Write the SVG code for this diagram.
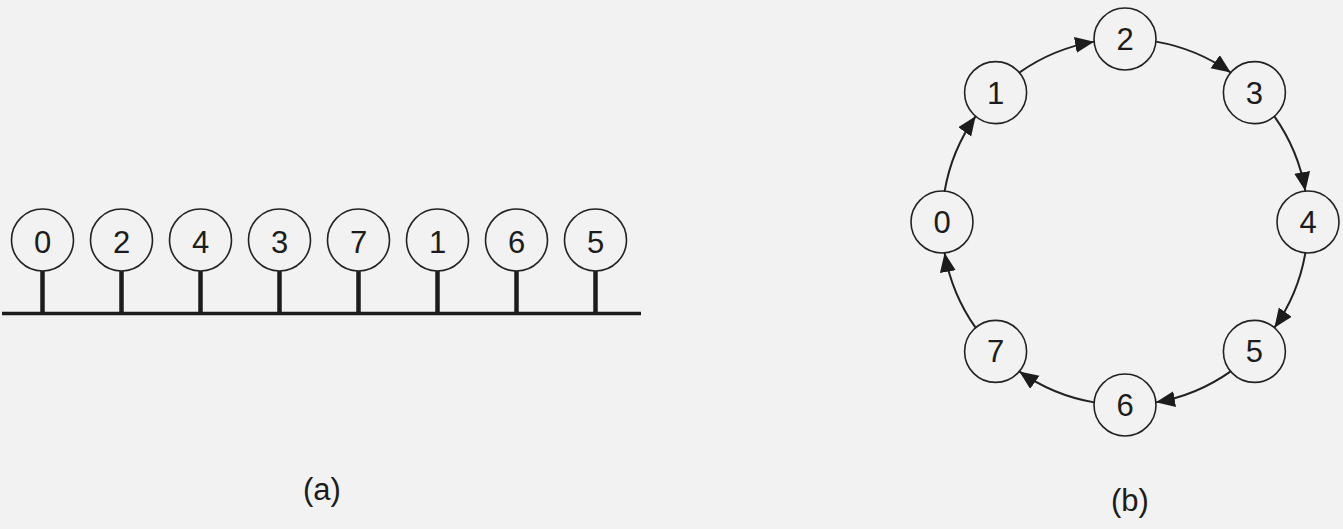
<svg xmlns="http://www.w3.org/2000/svg" width="1343" height="529" viewBox="0 0 1343 529">
<style>
.bg{fill:#f2f2f2}
.node circle{fill:#f2f2f2;stroke:#222;stroke-width:1.6}
.node text{font-family:"Liberation Sans",Arial,sans-serif;font-size:31px;fill:#1c1c1c;text-anchor:middle}
.stem{stroke:#1c1c1c;stroke-width:4.5}
.bus{stroke:#1c1c1c;stroke-width:3.5}
.arc{fill:none;stroke:#222;stroke-width:2;marker-end:url(#ah)}
.cap{font-family:"Liberation Sans",Arial,sans-serif;font-size:31px;fill:#1c1c1c;text-anchor:middle}
</style>
<defs>
<marker id="ah" markerUnits="userSpaceOnUse" markerWidth="22" markerHeight="18" refX="19" refY="8" orient="auto">
<path d="M0,0 L19,8 L0,16 Z" fill="#1c1c1c"/>
</marker>
</defs>
<rect class="bg" x="0" y="0" width="1343" height="529"/>

<g id="bus-a">
<line class="bus" x1="2" y1="313.5" x2="641" y2="313.5"/>
<line class="stem" x1="42.5" y1="271" x2="42.5" y2="314"/>
<line class="stem" x1="121.5" y1="271" x2="121.5" y2="314"/>
<line class="stem" x1="200.5" y1="271" x2="200.5" y2="314"/>
<line class="stem" x1="279.5" y1="271" x2="279.5" y2="314"/>
<line class="stem" x1="358.5" y1="271" x2="358.5" y2="314"/>
<line class="stem" x1="437.5" y1="271" x2="437.5" y2="314"/>
<line class="stem" x1="516.5" y1="271" x2="516.5" y2="314"/>
<line class="stem" x1="595.5" y1="271" x2="595.5" y2="314"/>
</g>

<g id="a0" class="node"><circle cx="42.5" cy="240" r="31"/><text x="42.5" y="253">0</text></g>
<g id="a2" class="node"><circle cx="121.5" cy="240" r="31"/><text x="121.5" y="253">2</text></g>
<g id="a4" class="node"><circle cx="200.5" cy="240" r="31"/><text x="200.5" y="253">4</text></g>
<g id="a3" class="node"><circle cx="279.5" cy="240" r="31"/><text x="279.5" y="253">3</text></g>
<g id="a7" class="node"><circle cx="358.5" cy="240" r="31"/><text x="358.5" y="253">7</text></g>
<g id="a1" class="node"><circle cx="437.5" cy="240" r="31"/><text x="437.5" y="253">1</text></g>
<g id="a6" class="node"><circle cx="516.5" cy="240" r="31"/><text x="516.5" y="253">6</text></g>
<g id="a5" class="node"><circle cx="595.5" cy="240" r="31"/><text x="595.5" y="253">5</text></g>

<g id="connectors">
<path class="arc" d="M944.63,191.10 A183,183 0 0 1 975.61,116.30"/>
<path class="arc" d="M1019.30,72.61 A183,183 0 0 1 1094.10,41.63"/>
<path class="arc" d="M1155.90,41.63 A183,183 0 0 1 1230.70,72.61"/>
<path class="arc" d="M1274.39,116.30 A183,183 0 0 1 1305.37,191.10"/>
<path class="arc" d="M1305.37,252.90 A183,183 0 0 1 1274.39,327.70"/>
<path class="arc" d="M1230.70,371.39 A183,183 0 0 1 1155.90,402.37"/>
<path class="arc" d="M1094.10,402.37 A183,183 0 0 1 1019.30,371.39"/>
<path class="arc" d="M975.61,327.70 A183,183 0 0 1 944.63,252.90"/>
</g>

<g id="b0" class="node"><circle cx="942" cy="222" r="31"/><text x="942" y="233">0</text></g>
<g id="b1" class="node"><circle cx="995.6" cy="92.6" r="31"/><text x="995.6" y="103.6">1</text></g>
<g id="b2" class="node"><circle cx="1125" cy="39" r="31"/><text x="1125" y="50">2</text></g>
<g id="b3" class="node"><circle cx="1254.4" cy="92.6" r="31"/><text x="1254.4" y="103.6">3</text></g>
<g id="b4" class="node"><circle cx="1308" cy="222" r="31"/><text x="1308" y="233">4</text></g>
<g id="b5" class="node"><circle cx="1254.4" cy="351.4" r="31"/><text x="1254.4" y="362.4">5</text></g>
<g id="b6" class="node"><circle cx="1125" cy="405" r="31"/><text x="1125" y="416">6</text></g>
<g id="b7" class="node"><circle cx="995.6" cy="351.4" r="31"/><text x="995.6" y="362.4">7</text></g>

<text class="cap" x="322" y="500">(a)</text>
<text class="cap" x="1130" y="511">(b)</text>
</svg>
